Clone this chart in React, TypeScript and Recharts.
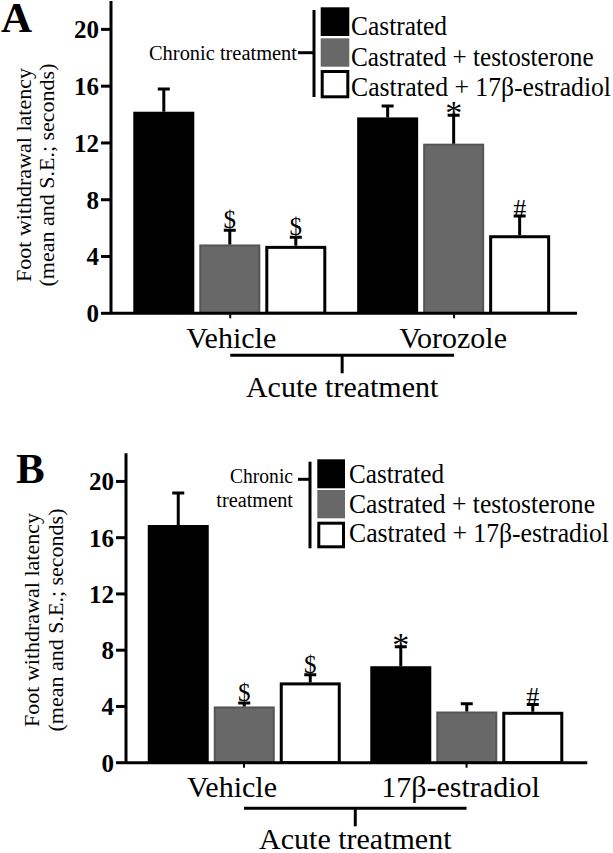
import React from 'react';
import { BarChart, Bar, XAxis, YAxis, Customized } from 'recharts';

// ---------- data ----------
const seriesNames = ['Castrated', 'Castrated + testosterone', 'Castrated + 17β-estradiol'];
const seriesKeys = ['castrated', 'testosterone', 'estradiol'];

const panelACategories = ['Vehicle', 'Vorozole'];
const panelACastrated = [14.2, 13.8];
const panelACastratedSE = [1.6, 0.8];
const panelACastratedMarks = ['', ''];
const panelATestosterone = [4.85, 11.95];
const panelATestosteroneSE = [1.0, 2.0];
const panelATestosteroneMarks = ['$', '*'];
const panelAEstradiol = [4.75, 5.5];
const panelAEstradiolSE = [0.6, 1.35];
const panelAEstradiolMarks = ['$', '#'];

const panelBCategories = ['Vehicle', '17β-estradiol'];
const panelBCastrated = [16.9, 6.86];
const panelBCastratedSE = [2.27, 1.38];
const panelBCastratedMarks = ['', '*'];
const panelBTestosterone = [4.0, 3.64];
const panelBTestosteroneSE = [0.24, 0.55];
const panelBTestosteroneMarks = ['$', ''];
const panelBEstradiol = [5.71, 3.62];
const panelBEstradiolSE = [0.55, 0.52];
const panelBEstradiolMarks = ['$', '#'];

const yTicks = [0, 4, 8, 12, 16, 20];
const yDomain = [0, 22];
const yAxisLabelLines = ['Foot withdrawal latency', '(mean and S.E.; seconds)'];
const chronicLabel = 'Chronic treatment';
const acuteLabel = 'Acute treatment';

// ---------- build rows ----------
const buildRows = (cats, c, cSE, cM, t, tSE, tM, e, eSE, eM) =>
  cats.map((cat, i) => ({
    category: cat,
    castrated: c[i], castratedSE: cSE[i], castratedMark: cM[i],
    testosterone: t[i], testosteroneSE: tSE[i], testosteroneMark: tM[i],
    estradiol: e[i], estradiolSE: eSE[i], estradiolMark: eM[i],
  }));

const rowsA = buildRows(panelACategories, panelACastrated, panelACastratedSE, panelACastratedMarks,
  panelATestosterone, panelATestosteroneSE, panelATestosteroneMarks,
  panelAEstradiol, panelAEstradiolSE, panelAEstradiolMarks);
const rowsB = buildRows(panelBCategories, panelBCastrated, panelBCastratedSE, panelBCastratedMarks,
  panelBTestosterone, panelBTestosteroneSE, panelBTestosteroneMarks,
  panelBEstradiol, panelBEstradiolSE, panelBEstradiolMarks);

// ---------- styles ----------
const FONT = '"Liberation Serif", "Times New Roman", serif';
const seriesStyles = {
  castrated: { fill: '#000000', stroke: '#000000', strokeWidth: 0 },
  testosterone: { fill: '#686868', stroke: '#555555', strokeWidth: 2 },
  estradiol: { fill: '#ffffff', stroke: '#000000', strokeWidth: 3 },
};
const markStyles = {
  '$': { fontSize: 25, dy: -2 },
  '#': { fontSize: 26, dy: 1 },
  '*': { fontSize: 34, dy: 9 },
};

const makeBarShape = (key) => (props) => {
  const { x, y, width, height, payload } = props;
  const st = seriesStyles[key];
  const value = payload[key];
  const se = payload[key + 'SE'];
  const mark = payload[key + 'Mark'];
  const unit = value ? height / value : 0;
  const topY = y - se * unit;
  const cx = x + width / 2;
  const inset = st.strokeWidth / 2;
  const ms = markStyles[mark];
  return (
    <g>
      <rect x={x + inset} y={y + inset} width={width - 2 * inset} height={Math.max(0, height - inset)}
        fill={st.fill} stroke={st.strokeWidth ? st.stroke : 'none'} strokeWidth={st.strokeWidth} />
      <line x1={cx} x2={cx} y1={y} y2={topY} stroke="#000" strokeWidth={3} />
      <line x1={cx - 6} x2={cx + 6} y1={topY} y2={topY} stroke="#000" strokeWidth={3} />
      {mark && ms ? (
        <text x={cx} y={topY + ms.dy} textAnchor="middle" fontFamily={FONT} fontSize={ms.fontSize}
          style={{ fill: '#000000', stroke: 'none' }}>{mark}</text>
      ) : null}
    </g>
  );
};

const CategoryTick = (props) => {
  const { x, y, payload, index, cfg } = props;
  const axisY = y - 5;
  const half = payload && payload.offset ? payload.offset : cfg.halfStep;
  const lx = x + (cfg.labelDx[index] || 0);
  return (
    <g>
      <text x={lx} y={axisY + cfg.labelDy} textAnchor="middle" fontFamily={FONT} fontSize={30} fill="#000">
        {payload.value}
      </text>
      {index === 0 ? (
        <g>
          <line x1={x} x2={x + 2 * half} y1={axisY + cfg.bracketDy} y2={axisY + cfg.bracketDy} stroke="#000" strokeWidth={3} />
          <line x1={x + half} x2={x + half} y1={axisY + cfg.bracketDy} y2={axisY + cfg.bracketDy + 18} stroke="#000" strokeWidth={3} />
          <text x={x + half} y={axisY + cfg.acuteDy} textAnchor="middle" fontFamily={FONT} fontSize={30} fill="#000">{acuteLabel}</text>
        </g>
      ) : null}
    </g>
  );
};

const Legend2 = ({ cfg }) => {
  const l = cfg.legend;
  return (
    <g>
      <line x1={l.barX} x2={l.barX} y1={l.barY1} y2={l.barY2} stroke="#000" strokeWidth={3} />
      <line x1={l.dashX1} x2={l.barX} y1={l.dashY} y2={l.dashY} stroke="#000" strokeWidth={3} />
      {l.chronicLines.map((t, i) => (
        <text key={i} x={l.chronicX} y={l.chronicY[i]} textAnchor="end" fontFamily={FONT} fontSize={20} fill="#000"
          textLength={l.chronicLen[i]} lengthAdjust="spacingAndGlyphs">{t}</text>
      ))}
      {seriesKeys.map((k, i) => {
        const st = seriesStyles[k];
        const inset = k === 'estradiol' ? 1.5 : 0;
        return (
          <g key={k}>
            <rect x={l.boxX + inset} y={l.boxY[i] + inset} width={l.boxW - 2 * inset} height={l.boxH[i] - 2 * inset}
              fill={st.fill} stroke={k === 'estradiol' ? '#000' : 'none'} strokeWidth={k === 'estradiol' ? 3 : 0} />
            <text x={l.textX} y={l.textY[i]} fontFamily={FONT} fontSize={28} fill="#000"
              textLength={l.textLen[i]} lengthAdjust="spacingAndGlyphs">{seriesNames[i]}</text>
          </g>
        );
      })}
    </g>
  );
};

const Decor = ({ cfg }) => (
  <g>
    <text x={cfg.letterX} y={cfg.letterY} fontFamily={FONT} fontSize={43} fontWeight="bold" fill="#000">{cfg.letter}</text>
    {yAxisLabelLines.map((t, i) => (
      <text key={i} x={cfg.yLabelX[i]} y={cfg.yLabelCY} transform={`rotate(-90, ${cfg.yLabelX[i]}, ${cfg.yLabelCY})`}
        textAnchor="middle" dominantBaseline="central" fontFamily={FONT} fontSize={22} fill="#000">{t}</text>
    ))}
    <Legend2 cfg={cfg} />
  </g>
);

const cfgA = {
  letter: 'A', letterX: 1, letterY: 32,
  yLabelX: [23, 46], yLabelCY: 175,
  labelDx: [1, -1], labelDy: 35, bracketDy: 42, acuteDy: 83.5, halfStep: 112,
  legend: {
    barX: 314, barY1: 10, barY2: 97, dashX1: 298, dashY: 52.7,
    chronicLines: [chronicLabel], chronicX: 297, chronicY: [59.5], chronicLen: [148],
    boxX: 320.7, boxW: 28.6, boxY: [7.3, 38.3, 70], boxH: [28.7, 28.4, 28.3],
    textX: 351, textY: [35, 65.5, 96], textLen: [96, 242.6, 260],
  },
};

const cfgB = {
  letter: 'B', letterX: 16, letterY: 83,
  yLabelX: [31, 55], yLabelCY: 220,
  labelDx: [-12, -6], labelDy: 34, bracketDy: 45.6, acuteDy: 86, halfStep: 111,
  legend: {
    barX: 310, barY1: 61.7, barY2: 148.3, dashX1: 298, dashY: 79.3,
    chronicLines: ['Chronic', 'treatment'], chronicX: 293, chronicY: [83.3, 106.7], chronicLen: [63, 76.7],
    boxX: 317.3, boxW: 27.7, boxY: [59.3, 90, 121.7], boxH: [29, 28.3, 26.6],
    textX: 349, textY: [83.3, 112.7, 141.7], textLen: [95, 246, 260],
  },
};

const Panel = ({ rows, cfg, height, margin, yWidth, xHeight, padding }) => (
  <BarChart width={613} height={height} data={rows} margin={margin} barSize={61} barGap={5} barCategoryGap={0}>
    <XAxis dataKey="category" height={xHeight} padding={padding} interval={0}
      axisLine={{ stroke: '#000', strokeWidth: 3 }} tickLine={{ stroke: '#000', strokeWidth: 2 }}
      tickSize={5} tickMargin={0}
      tick={(p) => <CategoryTick {...p} cfg={cfg} />} />
    <YAxis width={yWidth} domain={yDomain} ticks={yTicks} allowDataOverflow interval={0}
      axisLine={{ stroke: '#000', strokeWidth: 3 }} tickLine={{ stroke: '#000', strokeWidth: 3 }}
      tickSize={10} tickMargin={2}
      tick={{ fontSize: 25, fontWeight: 'bold', fill: '#000', fontFamily: FONT }} />
    {seriesKeys.map((k, i) => (
      <Bar key={k} dataKey={k} name={seriesNames[i]} fill={seriesStyles[k].fill}
        shape={makeBarShape(k)} isAnimationActive={false} />
    ))}
    <Customized component={<Decor cfg={cfg} />} />
  </BarChart>
);

export default function App() {
  return (
    <div style={{ position: 'absolute', left: 0, top: 0, width: 613, height: 853, background: '#fff' }}>
      <div style={{ position: 'absolute', left: 0, top: 0 }}>
        <Panel rows={rowsA} cfg={cfgA} height={400}
          margin={{ top: 1, right: 36, bottom: 0, left: 0 }} yWidth={111} xHeight={86.7}
          padding={{ left: 7.3, right: 11 }} />
      </div>
      <div style={{ position: 'absolute', left: 0, top: 400 }}>
        <Panel rows={rowsB} cfg={cfgB} height={453}
          margin={{ top: 53.3, right: 25.7, bottom: 0, left: 0 }} yWidth={126} xHeight={90.3}
          padding={{ left: 6.75, right: 9.5 }} />
      </div>
    </div>
  );
}
